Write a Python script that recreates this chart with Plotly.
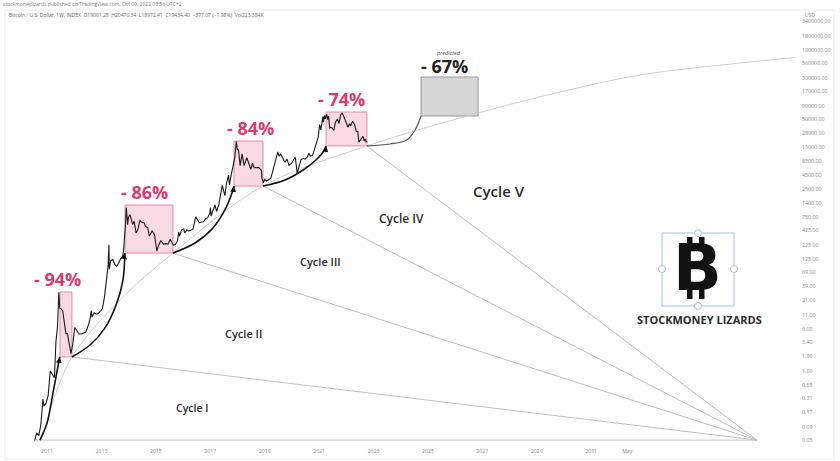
import math
import plotly.graph_objects as go

# BTC/USD price path
btc_dates = [
    "2010-07-18", "2010-08-15", "2010-09-12", "2010-10-10", "2010-11-07", "2010-11-21", "2010-12-19",
    "2011-01-16", "2011-02-13", "2011-03-13", "2011-04-10", "2011-04-30", "2011-05-22", "2011-06-08",
    "2011-06-20", "2011-07-10", "2011-07-31", "2011-08-21", "2011-09-11", "2011-10-02", "2011-10-23",
    "2011-11-18", "2011-12-11", "2012-01-08", "2012-02-05", "2012-03-04", "2012-04-01", "2012-05-06",
    "2012-06-03", "2012-07-01", "2012-07-29", "2012-08-16", "2012-08-26", "2012-09-23", "2012-10-21",
    "2012-11-18", "2012-12-16", "2013-01-13", "2013-02-10", "2013-03-10", "2013-03-31", "2013-04-10",
    "2013-04-16", "2013-05-05", "2013-06-02", "2013-06-30", "2013-07-21", "2013-08-18", "2013-09-15",
    "2013-10-13", "2013-10-27", "2013-11-17", "2013-11-30", "2013-12-18", "2013-12-29", "2014-01-19",
    "2014-02-09", "2014-02-23", "2014-03-16", "2014-04-10", "2014-05-04", "2014-06-01", "2014-06-29",
    "2014-07-27", "2014-08-17", "2014-09-14", "2014-10-05", "2014-11-12", "2014-12-14", "2015-01-14",
    "2015-02-08", "2015-03-08", "2015-04-12", "2015-05-10", "2015-06-14", "2015-07-12", "2015-08-23",
    "2015-09-20", "2015-10-18", "2015-11-04", "2015-11-15", "2015-12-13", "2016-01-10", "2016-01-24",
    "2016-02-21", "2016-03-20", "2016-04-17", "2016-05-15", "2016-06-12", "2016-06-19", "2016-07-17",
    "2016-08-07", "2016-09-04", "2016-10-02", "2016-10-30", "2016-11-27", "2016-12-25", "2017-01-04",
    "2017-01-11", "2017-02-05", "2017-03-05", "2017-03-26", "2017-04-23", "2017-05-21", "2017-06-11",
    "2017-07-16", "2017-08-06", "2017-09-03", "2017-09-15", "2017-10-08", "2017-11-05", "2017-11-26",
    "2017-12-17", "2017-12-31", "2018-01-14", "2018-02-06", "2018-03-04", "2018-04-01", "2018-05-06",
    "2018-06-03", "2018-06-29", "2018-07-22", "2018-08-12", "2018-09-09", "2018-10-14", "2018-11-18",
    "2018-11-25", "2018-12-15", "2018-12-30", "2019-01-27", "2019-02-24", "2019-03-24", "2019-04-14",
    "2019-05-12", "2019-05-26", "2019-06-26", "2019-07-14", "2019-08-04", "2019-09-01", "2019-09-29",
    "2019-10-27", "2019-11-24", "2019-12-22", "2020-01-19", "2020-02-16", "2020-03-13", "2020-04-05",
    "2020-05-03", "2020-05-31", "2020-06-28", "2020-07-26", "2020-08-16", "2020-09-06", "2020-10-04",
    "2020-10-25", "2020-11-22", "2020-12-20", "2021-01-08", "2021-01-24", "2021-02-21", "2021-02-28",
    "2021-03-14", "2021-03-25", "2021-04-14", "2021-04-25", "2021-05-09", "2021-05-23", "2021-06-06",
    "2021-06-27", "2021-07-18", "2021-08-08", "2021-09-05", "2021-09-26", "2021-10-17", "2021-11-07",
    "2021-11-28", "2021-12-19", "2022-01-23", "2022-02-13", "2022-02-27", "2022-03-27", "2022-04-24",
    "2022-05-15", "2022-06-05", "2022-06-18", "2022-07-10", "2022-07-31", "2022-08-14", "2022-08-28",
    "2022-09-11", "2022-09-25", "2022-10-09",
]
btc_prices = [
    0.05, 0.07, 0.062, 0.10, 0.30, 0.22, 0.25,
    0.35, 1.00, 0.85, 0.75, 3.5, 7.0, 29.6,
    15.0, 14.5, 13.3, 8.0, 5.0, 5.0, 3.2,
    2.1, 3.1, 6.5, 5.7, 4.9, 4.9, 5.1,
    5.3, 6.7, 9.0, 13.5, 10.1, 12.2, 11.5,
    11.8, 13.4, 14.5, 24.0, 47.0, 93.0, 230.0,
    80.0, 115.0, 122.0, 97.0, 90.0, 102.0, 127.0,
    140.0, 200.0, 490.0, 1130.0, 540.0, 750.0, 840.0,
    680.0, 550.0, 630.0, 380.0, 440.0, 650.0, 600.0,
    590.0, 500.0, 480.0, 330.0, 420.0, 350.0, 175.0,
    225.0, 275.0, 235.0, 240.0, 235.0, 290.0, 225.0,
    232.0, 270.0, 400.0, 330.0, 435.0, 450.0, 380.0,
    435.0, 410.0, 430.0, 455.0, 680.0, 760.0, 665.0,
    590.0, 610.0, 615.0, 700.0, 735.0, 900.0, 1130.0,
    790.0, 1020.0, 1270.0, 960.0, 1250.0, 2050.0, 2950.0,
    1900.0, 3200.0, 4600.0, 3000.0, 4600.0, 7400.0, 9700.0,
    19400.0, 13800.0, 13600.0, 6900.0, 11400.0, 6900.0, 9700.0,
    7700.0, 5900.0, 7700.0, 6300.0, 6300.0, 6400.0, 5600.0,
    4000.0, 3300.0, 3850.0, 3550.0, 3850.0, 4000.0, 5100.0,
    7000.0, 8700.0, 12500.0, 10300.0, 11400.0, 9600.0, 8000.0,
    9200.0, 7000.0, 7500.0, 8700.0, 9900.0, 5000.0, 6800.0,
    8900.0, 9450.0, 9100.0, 9900.0, 11800.0, 10300.0, 10700.0,
    13000.0, 18400.0, 23500.0, 40500.0, 32000.0, 57000.0, 45000.0,
    60000.0, 51500.0, 63000.0, 50000.0, 58000.0, 34800.0, 35800.0,
    34500.0, 31500.0, 44500.0, 51500.0, 42500.0, 61500.0, 66000.0,
    57500.0, 46500.0, 36000.0, 42000.0, 38000.0, 46800.0, 39500.0,
    30000.0, 29900.0, 19000.0, 20800.0, 23300.0, 24300.0, 20000.0,
    21800.0, 19000.0, 19434.0,
]

# drawdown boxes
box_start = ["2011-06-24", "2013-11-13", "2017-11-15", "2021-04-05"]
box_end = ["2011-12-01", "2015-08-18", "2018-12-10", "2022-10-05"]
box_top = [30, 1268, 19900, 69300]
box_bottom = [1.83, 160, 2870, 16100]
box_labels = ["- 94%", "- 86%", "- 84%", "- 74%"]
label_dates = ["2011-05-27", "2014-08-08", "2018-07-01", "2021-10-23"]

pred_start, pred_end = "2024-10-01", "2026-11-06"
pred_top, pred_bottom = 313000, 58400
pred_label_date = "2025-08-18"
pred_note_date = "2025-10-11"

# curved arrows between the boxes
arrow_dates = [
    ["2010-09-27", "2011-01-01", "2011-03-22", "2011-06-20"],
    ["2011-12-01", "2012-07-31", "2013-02-17", "2013-07-16", "2013-10-16", "2013-11-10"],
    ["2015-08-18", "2016-06-10", "2017-02-06", "2017-07-16", "2017-10-05", "2017-11-15"],
    ["2018-12-10", "2019-10-01", "2020-05-31", "2020-11-20", "2021-02-24", "2021-04-05"],
    ["2022-10-05", "2023-08-11", "2024-03-24", "2024-07-13", "2024-10-01"],
]
arrow_prices = [
    [0.051, 0.107, 0.39, 1.83],
    [1.83, 3.06, 6.4, 17.1, 50, 160],
    [160, 247, 471, 1022, 1866, 2870],
    [2870, 3715, 5715, 8790, 12400, 16100],
    [16100, 17500, 20800, 32000, 58400],
]

# fan lines to the common apex
fan_apex_date, fan_apex_price = "2037-02-06", 0.051
fan_dates = ["2010-08-01", "2011-12-01", "2015-08-18", "2018-12-10", "2022-10-05"]
fan_prices = [0.051, 1.83, 160, 2870, 16100]

# thin growth curve
growth_dates = ["2011-02-10", "2011-12-01", "2013-09-05", "2015-08-18", "2018-12-10", "2022-10-05",
                "2026-11-06", "2029-11-10", "2032-10-20", "2036-06-25", "2038-07-01"]
growth_prices = [0.187, 1.83, 21.2, 160, 2870, 16100, 66400, 164000, 341000, 571000, 724000]

cycle_names = ["Cycle I", "Cycle II", "Cycle III", "Cycle IV", "Cycle V"]
cycle_dates = ["2016-05-01", "2018-03-17", "2021-01-26", "2024-01-18", "2027-08-14"]
cycle_prices = [0.203, 5.13, 109, 694, 2313]
cycle_sizes = [10.5, 11, 11, 12, 15]

y_ticks = [0.05, 0.09, 0.17, 0.31, 0.55, 1, 1.9, 3.4, 6, 11, 21, 39, 69, 125, 225, 425, 750,
           1400, 2500, 4500, 8500, 15000, 28000, 50000, 90000, 170000, 300000, 560000,
           1000000, 1800000, 3400000]
y_labels = ["0.05", "0.09", "0.17", "0.31", "0.55", "1.00", "1.90", "3.40", "6.00", "11.00",
            "21.00", "39.00", "69.00", "125.00", "225.00", "425.00", "750.00", "1400.00",
            "2500.00", "4500.00", "8500.00", "15000.00", "28000.00", "50000.00", "90000.00",
            "170000.00", "300000.00", "560000.00", "1000000.00", "1800000.00", "3400000.00"]
x_ticks = ["2011-01-01", "2013-01-01", "2015-01-01", "2017-01-01", "2019-01-01", "2021-01-01",
           "2023-01-01", "2025-01-01", "2027-01-01", "2029-01-01", "2031-01-01", "2032-05-01"]
x_labels = ["2011", "2013", "2015", "2017", "2019", "2021", "2023", "2025", "2027", "2029", "2031", "May"]

PINK = "#d83a70"
FONT = "Open Sans"
W, H = 765, 437  # plot area in pixels, used for paper-space decorations


def px(x, y):
    # page pixel -> paper coords
    return (x - 30) / W, (447 - y) / H


fig = go.Figure()

# fan lines
for d, p in zip(fan_dates, fan_prices):
    fig.add_trace(go.Scatter(x=[d, fan_apex_date], y=[p, fan_apex_price], mode="lines",
                             line=dict(color="#c0c0c0", width=1), hoverinfo="skip"))

# growth curve
fig.add_trace(go.Scatter(x=growth_dates, y=growth_prices, mode="lines",
                         line=dict(color="#cfcfcf", width=1, shape="spline"), hoverinfo="skip"))

# boxes
for x0, x1, top, bot in zip(box_start, box_end, box_top, box_bottom):
    fig.add_shape(type="rect", x0=x0, x1=x1, y0=bot, y1=top, xref="x", yref="y",
                  fillcolor="rgba(242,170,195,0.45)", line=dict(color="#e58aa8", width=1), layer="below")
fig.add_shape(type="rect", x0=pred_start, x1=pred_end, y0=pred_bottom, y1=pred_top, xref="x", yref="y",
              fillcolor="#d6d6d6", line=dict(color="#9a9a9a", width=1), layer="below")

# price
fig.add_trace(go.Scatter(x=btc_dates, y=btc_prices, mode="lines",
                         line=dict(color="#1a1a1a", width=1.1), hoverinfo="skip"))

# arrows
for i, (ad, ap) in enumerate(zip(arrow_dates, arrow_prices)):
    last = i == len(arrow_dates) - 1
    col = "#555555" if last else "#111111"
    fig.add_trace(go.Scatter(x=ad, y=ap, mode="lines",
                             line=dict(color=col, width=1.2 if last else 1.6, shape="spline", smoothing=1.0),
                             hoverinfo="skip"))
    if not last:
        fig.add_annotation(x=ad[-1], y=math.log10(ap[-1]), xref="x", yref="y", text="",
                           showarrow=True, ax=-1, ay=7, arrowhead=2, arrowsize=1,
                           arrowwidth=1.2, arrowcolor=col, standoff=0)

# drawdown labels
for d, top, lab in zip(label_dates, box_top, box_labels):
    fig.add_annotation(x=d, y=math.log10(top), xref="x", yref="y", text=f"<b>{lab}</b>",
                       showarrow=False, xanchor="center", yanchor="bottom", yshift=-1,
                       font=dict(family=FONT, size=18, color=PINK))
fig.add_annotation(x=pred_label_date, y=math.log10(pred_top), xref="x", yref="y", text="<b>- 67%</b>",
                   showarrow=False, xanchor="center", yanchor="bottom", yshift=-3,
                   font=dict(family=FONT, size=18, color="#222222"))
fig.add_annotation(x=pred_note_date, y=math.log10(pred_top), xref="x", yref="y", text="<i>predicted</i>",
                   showarrow=False, xanchor="center", yanchor="bottom", yshift=18,
                   font=dict(family=FONT, size=5.5, color="#444444"))

# cycle labels
for name, d, p, s in zip(cycle_names, cycle_dates, cycle_prices, cycle_sizes):
    fig.add_annotation(x=d, y=math.log10(p), xref="x", yref="y", text=name, showarrow=False,
                       xanchor="center", yanchor="middle",
                       font=dict(family=FONT, size=s, color="#2a2a2a", weight=600))

# logo: frame with handles, bitcoin B with its strokes
fx0, fy0 = px(662, 306)
fx1, fy1 = px(734, 233)
fig.add_shape(type="rect", xref="paper", yref="paper", x0=fx0, x1=fx1, y0=fy0, y1=fy1,
              line=dict(color="#a9c0dc", width=1))
for hx, hy in [(698, 233), (698, 306), (662, 269), (734, 269)]:
    cx, cy = px(hx, hy)
    fig.add_shape(type="circle", xref="paper", yref="paper",
                  x0=cx - 3.5 / W, x1=cx + 3.5 / W, y0=cy - 3.5 / H, y1=cy + 3.5 / H,
                  fillcolor="white", line=dict(color="#a9c0dc", width=1))
for sx in (687, 699):
    for sy0, sy1 in ((237, 248), (288, 299)):
        a0, b0 = px(sx, sy1)
        a1, b1 = px(sx + 5.5, sy0)
        fig.add_shape(type="rect", xref="paper", yref="paper", x0=a0, x1=a1, y0=b0, y1=b1,
                      fillcolor="#111111", line=dict(width=0))
lx, ly = px(697, 268)
fig.add_annotation(xref="paper", yref="paper", x=lx, y=ly, text="<b>B</b>", showarrow=False,
                   xanchor="center", yanchor="middle",
                   font=dict(family="DejaVu Sans", size=64, color="#111111"))
tx, ty = px(699, 319)
fig.add_annotation(xref="paper", yref="paper", x=tx, y=ty, text="<b>STOCKMONEY LIZARDS</b>",
                   showarrow=False, xanchor="center", yanchor="middle",
                   font=dict(family=FONT, size=11, color="#2a2a2a"))

# header
hx1, hy1 = px(1, 4)
fig.add_annotation(xref="paper", yref="paper", x=hx1, y=hy1, xanchor="left", yanchor="middle",
                   text="stockmoneylizards published on TradingView.com, Oct 09, 2022 08:56 UTC+2",
                   showarrow=False, font=dict(family=FONT, size=5, color="#777777"))
hx2, hy2 = px(7, 15)
fig.add_annotation(xref="paper", yref="paper", x=hx2, y=hy2, xanchor="left", yanchor="middle",
                   text="Bitcoin / U.S. Dollar, 1W, INDEX  O19061.28  H20470.34  L18972.41  C19434.40  "
                        "\u2212377.07 (\u22121.98%)  Vol223.384K",
                   showarrow=False, font=dict(family=FONT, size=5, color="#666666"))
ux, uy = px(803, 15)
fig.add_annotation(xref="paper", yref="paper", x=ux, y=uy, xanchor="left", yanchor="middle", text="USD",
                   showarrow=False, font=dict(family=FONT, size=5, color="#888888"))

# widget frame
gx0, gy0 = px(5, 459)
gx1, gy1 = px(834, 10)
fig.add_shape(type="rect", xref="paper", yref="paper", x0=gx0, x1=gx1, y0=gy0, y1=gy1,
              line=dict(color="#ececec", width=1), layer="below")

fig.update_layout(
    width=840, height=461,
    margin=dict(l=30, r=45, t=10, b=14),
    paper_bgcolor="white", plot_bgcolor="white",
    showlegend=False,
    xaxis=dict(type="date", range=["2010-05-17", "2038-07-01"], tickvals=x_ticks, ticktext=x_labels,
               showgrid=False, zeroline=False, showline=False, ticks="", automargin=False,
               tickfont=dict(family=FONT, size=5.2, color="#888888")),
    yaxis=dict(type="log", side="right", range=[-1.421, 6.748], tickvals=y_ticks, ticktext=y_labels,
               showgrid=False, zeroline=False, showline=False, ticks="", ticklabelstandoff=6,
               automargin=False, tickfont=dict(family=FONT, size=5.3, color="#888888")),
)

fig.write_html("out.html", config={"displayModeBar": False},
               post_script="document.body.style.margin='0';document.body.style.overflow='hidden';")
